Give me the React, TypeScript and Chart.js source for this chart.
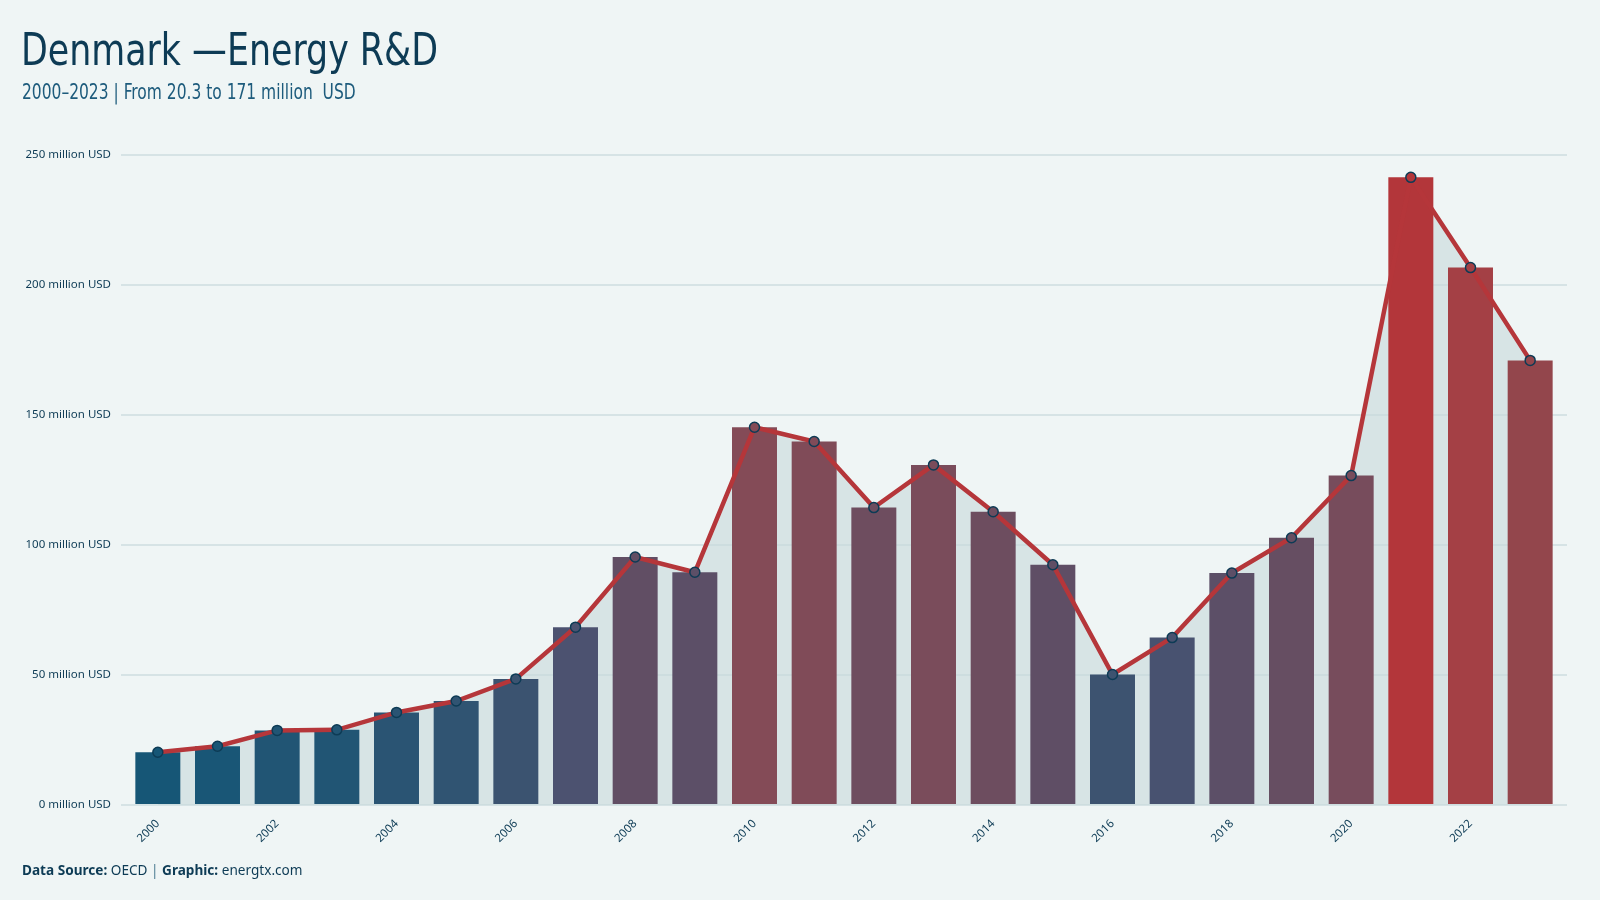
import React, { useEffect, useRef } from "react";
import { Chart, registerables } from "chart.js";

Chart.register(...registerables);

const years = [
  "2000", "2001", "2002", "2003", "2004", "2005", "2006", "2007",
  "2008", "2009", "2010", "2011", "2012", "2013", "2014", "2015",
  "2016", "2017", "2018", "2019", "2020", "2021", "2022", "2023",
];
const rdSpending = [
  20.3, 22.6, 28.7, 28.9, 35.6, 40.0, 48.5, 68.4,
  95.4, 89.5, 145.3, 139.8, 114.4, 130.8, 112.8, 92.4,
  50.2, 64.4, 89.2, 102.8, 126.7, 241.4, 206.7, 171,
];
const yTickValues = [0, 50, 100, 150, 200, 250];

const titleText = "Denmark —Energy R&D";
const subtitleText = "2000–2023 | From 20.3 to 171 million  USD";

// colour palette stops (t in 0..1 relative to value range)
const paletteStops: [number, number[]][] = [
  [0, [22, 86, 118]],
  [0.135, [61, 83, 112]],
  [0.22, [76, 82, 112]],
  [0.34, [97, 78, 100]],
  [0.565, [132, 75, 87]],
  [0.683, [147, 70, 76]],
  [0.843, [164, 64, 69]],
  [1, [179, 54, 58]],
];

function colorFor(v: number, min: number, max: number): string {
  const t = Math.max(0, Math.min(1, (v - min) / (max - min)));
  for (let i = 0; i < paletteStops.length - 1; i++) {
    const [t0, c0] = paletteStops[i];
    const [t1, c1] = paletteStops[i + 1];
    if (t >= t0 && t <= t1) {
      const f = (t - t0) / (t1 - t0);
      const c = c0.map((a, k) => Math.round(a + (c1[k] - a) * f));
      return `rgb(${c[0]},${c[1]},${c[2]})`;
    }
  }
  const c = paletteStops[paletteStops.length - 1][1];
  return `rgb(${c[0]},${c[1]},${c[2]})`;
}

const NAVY = "#0d3b55";
const BG = "#eff5f5";
const GRID = "#d6e3e5";

// extends horizontal grid lines a little past the right edge of the plot
const gridExtend = {
  id: "gridExtend",
  beforeDatasetsDraw(chart: any) {
    const { ctx, chartArea, scales } = chart;
    const y = scales.y;
    ctx.save();
    ctx.strokeStyle = GRID;
    ctx.lineWidth = 2;
    y.ticks.forEach((t: any) => {
      const py = y.getPixelForValue(t.value);
      ctx.beginPath();
      ctx.moveTo(chartArea.right, py);
      ctx.lineTo(chartArea.right + 7, py);
      ctx.stroke();
    });
    ctx.restore();
  },
};

export default function App() {
  const canvasRef = useRef<HTMLCanvasElement | null>(null);

  useEffect(() => {
    if (!canvasRef.current) return;
    const min = Math.min(...rdSpending);
    const max = Math.max(...rdSpending);
    const colors = rdSpending.map((v) => colorFor(v, min, max));

    const chart = new Chart(canvasRef.current, {
      type: "bar",
      data: {
        labels: years,
        datasets: [
          {
            type: "line",
            data: rdSpending,
            borderColor: "#b5363a",
            borderWidth: 4.5,
            pointRadius: 5,
            pointBackgroundColor: colors,
            pointBorderColor: NAVY,
            pointBorderWidth: 1.5,
            fill: "origin",
            backgroundColor: "rgba(199,217,218,0.6)",
            tension: 0,
            order: 0,
          } as any,
          {
            type: "bar",
            data: rdSpending,
            backgroundColor: colors,
            borderWidth: 0,
            categoryPercentage: 1,
            barPercentage: 0.754,
            order: 1,
          } as any,
        ],
      },
      options: {
        animation: false,
        responsive: false,
        maintainAspectRatio: false,
        layout: { padding: { left: 0, right: 40, top: 155, bottom: 0 } },
        plugins: {
          legend: { display: false },
          tooltip: { enabled: false },
          title: { display: false },
          filler: { drawTime: "beforeDatasetsDraw" },
        } as any,
        scales: {
          x: {
            grid: { display: false },
            border: { display: false },
            ticks: {
              autoSkip: false,
              maxRotation: 45,
              minRotation: 45,
              padding: 4,
              color: NAVY,
              font: { family: "'Noto Sans', 'Open Sans', sans-serif", size: 11.5 },
              callback: (_v: any, i: number) => (i % 2 === 0 ? years[i] : ""),
            },
            afterFit: (s: any) => {
              s.height = 95;
            },
          },
          y: {
            min: 0,
            max: 250,
            afterBuildTicks: (s: any) => {
              s.ticks = yTickValues.map((v) => ({ value: v }));
            },
            grid: {
              color: GRID,
              lineWidth: 2,
              tickLength: 7,
              drawTicks: true,
            },
            border: { display: false },
            ticks: {
              padding: 10,
              color: NAVY,
              font: { family: "'Noto Sans', 'Open Sans', sans-serif", size: 11.5 },
              callback: (v: any) => `${v} million USD`,
            },
            afterFit: (s: any) => {
              s.width = 128;
            },
          },
        },
      } as any,
      plugins: [gridExtend],
    });
    return () => chart.destroy();
  }, []);

  return (
    <div
      style={{
        position: "absolute",
        left: 0,
        top: 0,
        width: 1600,
        height: 900,
        background: BG,
        overflow: "hidden",
      }}
    >
      <canvas
        ref={canvasRef}
        width={1600}
        height={900}
        style={{ position: "absolute", left: 0, top: 0, width: 1600, height: 900 }}
      />
      <div
        style={{
          position: "absolute",
          left: 21,
          top: 27,
          fontFamily: "'Liberation Sans Narrow', 'DejaVu Sans Condensed', sans-serif",
          fontSize: 45,
          lineHeight: "45px",
          color: NAVY,
          whiteSpace: "pre",
          transform: "scaleX(0.86)",
          transformOrigin: "0 0",
        }}
      >
        {titleText}
      </div>
      <div
        style={{
          position: "absolute",
          left: 22,
          top: 82,
          fontFamily: "'Liberation Sans Narrow', 'DejaVu Sans Condensed', sans-serif",
          fontSize: 21,
          lineHeight: "21px",
          color: "#1d5b7c",
          whiteSpace: "pre",
          transform: "scaleX(0.82)",
          transformOrigin: "0 0",
        }}
      >
        {subtitleText}
      </div>
      <div
        style={{
          position: "absolute",
          left: 22,
          top: 863,
          fontFamily: "'Noto Sans', 'Open Sans', sans-serif",
          fontSize: 13.6,
          lineHeight: "13px",
          color: NAVY,
          whiteSpace: "pre",
        }}
      >
        <b>Data Source:</b> OECD <span style={{ color: "#4a7a90" }}>|</span> <b>Graphic:</b> energtx.com
      </div>
    </div>
  );
}
